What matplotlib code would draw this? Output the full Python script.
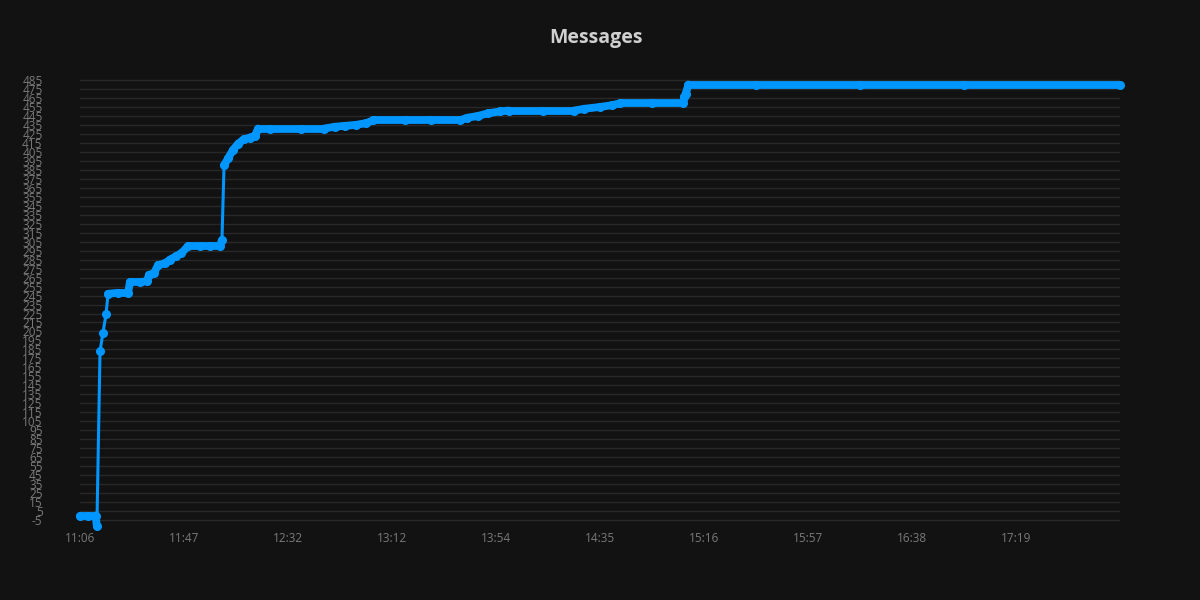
import numpy as np
import matplotlib.pyplot as plt
from matplotlib.collections import LineCollection

# sample position (index along the category axis) and message count
sample_pos = [0, 3, 6, 6.5, 7.7, 8.8, 10, 10.8, 14.6, 18.5, 19.2, 23, 25.8, 26.5,
              28.5, 30, 32.7, 34.6, 37, 39, 41.5, 46, 50, 53.8, 54.6, 55.4, 57,
              58.8, 60.8, 63, 65.4, 67.3, 68.5, 73, 85, 94, 98, 102, 106, 110,
              112.7, 125, 135, 146, 149, 153, 157, 161.5, 165, 178, 190, 194,
              200, 204.6, 207.7, 220, 232, 232.3, 233, 234, 260, 300, 340, 400]
messages = [0, 0, 0, -12, 183, 203, 224, 247, 248, 248, 260, 260, 261, 268,
            270, 279, 281, 285, 289, 292, 300, 300, 300, 300, 307, 390, 398,
            407, 414, 419, 421, 423, 431, 431, 431, 431, 433, 434, 435, 437,
            440, 440, 440, 440, 443, 445, 448, 450, 451, 451, 451, 453,
            455, 457, 459, 459, 459, 466, 470, 480, 480, 480, 480, 480]

tick_pos = [0, 40, 80, 120, 160, 200, 240, 280, 320, 360]
tick_labels = ['11:06', '11:47', '12:32', '13:12', '13:54', '14:35', '15:16',
               '15:57', '16:38', '17:19']
y_ticks = list(range(-5, 486, 10))

bg = '#121212'
blue = '#0096ff'

plt.rcParams['font.family'] = ['Open Sans', 'DejaVu Sans']
plt.rcParams['axes.unicode_minus'] = False
fig = plt.figure(figsize=(12, 6), dpi=100, facecolor=bg)
ax = fig.add_axes([80 / 1200, 0.1198, 1040 / 1200, 0.7513], facecolor=bg)

x = np.array(sample_pos)
y = np.array(messages)
segs = [[(x[i], y[i]), (x[i + 1], y[i + 1])] for i in range(len(x) - 1)]
# big jumps are drawn thin, runs of dense samples look like a thick band
widths = [2.2 if abs(y[i + 1] - y[i]) >= 15 else 5.6 for i in range(len(x) - 1)]
lc = LineCollection(segs, colors=blue, linewidths=widths, capstyle='round',
                    joinstyle='round', clip_on=False, zorder=3)
ax.add_collection(lc)
ax.plot(x, y, 'o', color=blue, markersize=5.5, clip_on=False, zorder=4)

ax.set_xlim(0, 400)
ax.set_ylim(-14, 488)
ax.set_yticks(y_ticks)
ax.set_xticks(tick_pos)
ax.set_xticklabels(tick_labels)
ax.yaxis.grid(True, color='#282828', linewidth=1)
ax.set_axisbelow(True)
for s in ax.spines.values():
    s.set_visible(False)
ax.tick_params(axis='y', length=0, pad=27, labelsize=8.5, labelcolor='#7a7a7a')
ax.tick_params(axis='x', length=0, pad=3, labelsize=8.5, labelcolor='#7a7a7a')

fig.text(0.497, 0.936, 'Messages', ha='center', va='center', fontsize=14,
         fontweight='bold', color='#d0d0d0')

fig.savefig('out.png', dpi=100, facecolor=bg)
